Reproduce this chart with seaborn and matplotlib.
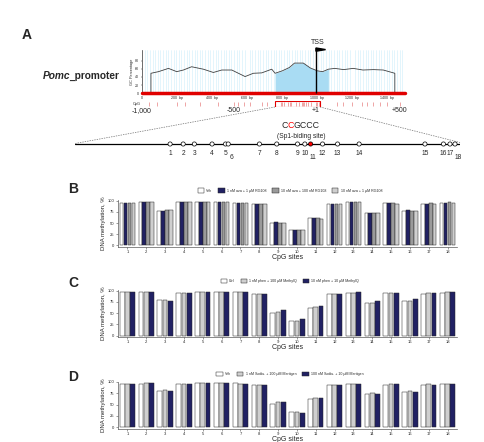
import numpy as np
import pandas as pd
import matplotlib
matplotlib.use("Agg")
import matplotlib.pyplot as plt
from matplotlib.patches import Rectangle
import seaborn as sns

sns.set_theme(style="ticks")
plt.rcParams['font.family'] = ['Liberation Sans', 'DejaVu Sans']

### panel A data: GC profile of the promoter (bp along the 1.5 kb window)

gc_bp = [51, 51, 94, 151, 198, 236, 283, 350, 407, 455, 512, 588, 635, 683, 740, 759,
         800, 840, 870, 920, 960, 1000, 1030, 1063, 1100, 1150, 1205, 1260, 1320, 1376, 1442, 1442]
gc_pct = [0, 49, 53, 61, 53, 57, 65, 59, 51, 57, 57, 41, 49, 50, 59, 49,
          55, 63, 74, 74, 62, 55, 53, 59, 61, 58, 61, 57, 58, 57, 49, 0]
island = (759, 1063)
tss_bp = 992
gc_ticks = [0, 200, 400, 600, 800, 1000, 1200, 1400]
gc_ticklabels = ['0', '200  bp', '400  bp', '600  bp', '800  bp', '1000  bp', '1200  bp', '1400  bp']
cpg_bp = [38, 85, 199, 247, 332, 436, 522, 545, 579, 617, 683, 712,
          790, 800, 812, 830, 845, 852, 880, 893, 910, 920, 926, 935, 948, 965, 990, 1000, 1008,
          1110, 1148, 1195, 1252, 1281, 1319, 1357, 1395, 1471]
zoom_box = (761, 1015)
pos_labels = ['-1,000', '-500', '+1', '+500']
pos_bp = [0, 522, 992, 1470]

# CpG sites in the zoomed diagram (relative position along the line, 0-100)
site_pos = [24.7, 28.1, 31.0, 35.6, 39.1, 39.8, 47.9, 52.4, 57.8, 59.7, 61.2, 64.3,
            68.2, 73.8, 90.9, 95.7, 97.4, 98.7]
sp1_site = 11

### panels B-D data: DNA methylation (%) per CpG site

sites = [str(i) for i in range(1, 19)]

b_groups = ['Veh', '1 nM aza + 1 μM RG108', '10 nM aza + 100 nM RG108', '10 nM aza + 1 μM RG108']
b_veh  = [96, 97, 78, 97, 97, 97, 96, 93, 50, 34, 62, 93, 97, 72, 94, 77, 92, 96]
b_low  = [94, 97, 77, 97, 97, 97, 96, 92, 53, 35, 62, 93, 97, 72, 94, 79, 93, 96]
b_mid  = [96, 97, 80, 97, 97, 97, 96, 93, 50, 34, 62, 93, 97, 73, 96, 77, 95, 97]
b_high = [96, 97, 80, 97, 97, 97, 96, 92, 50, 34, 59, 93, 97, 73, 92, 76, 93, 96]

c_groups = ['Ctrl', '1 nM phen + 100 μM MethylQ', '10 nM phen + 10 μM MethylQ']
c_ctrl = [97, 97, 79, 95, 98, 98, 98, 93, 51, 33, 62, 93, 95, 73, 95, 78, 92, 95]
c_low  = [97, 98, 80, 95, 98, 98, 98, 93, 53, 32, 63, 93, 95, 73, 95, 78, 94, 97]
c_high = [97, 97, 77, 95, 97, 97, 97, 93, 56, 37, 66, 93, 97, 76, 95, 81, 94, 97]

d_groups = ['Veh', '1 nM Sodiu. + 100 μM Mertigen', '100 nM Sodiu. + 10 μM Mertigen']
d_veh  = [96, 96, 79, 96, 98, 98, 98, 94, 52, 33, 63, 94, 96, 73, 94, 78, 93, 96]
d_low  = [96, 98, 82, 96, 98, 98, 96, 94, 56, 33, 65, 94, 96, 76, 96, 80, 96, 96]
d_high = [96, 98, 80, 96, 98, 97, 96, 94, 56, 32, 65, 93, 95, 73, 96, 78, 94, 96]

white, navy, dgray, lgray = 'white', '#16166e', '#9a9a9a', '#cfcfcf'

W, H = 484, 442
fig = plt.figure(figsize=(W / 100, H / 100), dpi=100)


def px_axes(l, t, r, b):
    return fig.add_axes([l / W, 1 - b / H, (r - l) / W, (b - t) / H])


## overlay in pixel coordinates for the connecting lines and the sequence text
ov = px_axes(0, 0, W, H)
ov.set_xlim(0, W)
ov.set_ylim(H, 0)
ov.axis('off')
ov.plot([275, 75], [107, 143.5], ls=(0, (2, 1.5)), color='0.45', lw=0.5)
ov.plot([320, 460], [107, 142.5], ls=(0, (2, 1.5)), color='0.45', lw=0.5)

t1 = ov.text(281, 129.5, 'C', fontsize=6.3, va='bottom', ha='left')
t2 = ov.annotate('C', xy=(1, 0), xycoords=t1, fontsize=6.3, va='bottom', ha='left', color='red')
ov.annotate('GCCC', xy=(1, 0), xycoords=t2, fontsize=6.3, va='bottom', ha='left')
ov.text(301, 136.5, '(Sp1-biding site)', fontsize=4.8, ha='center', va='center')

p1 = ov.text(43, 79, 'Pomc', fontsize=7.3, fontweight='bold', fontstyle='italic',
             ha='left', va='baseline')
ov.annotate('_promoter', xy=(0.96, 0), xycoords=p1, fontsize=7.3, fontweight='bold',
            ha='left', va='bottom')

for letter, x, y in [('A', 27, 35), ('B', 73, 189), ('C', 73, 283), ('D', 73, 377)]:
    ov.text(x, y, letter, fontsize=10, fontweight='bold', ha='center', va='center')

## GC content plot
ax = px_axes(142, 50, 405, 93.3)
ax.set_xlim(0, 1500)
ax.set_ylim(0, 106)
ax.set_xticks(np.arange(0, 1500, 15), minor=True)
ax.grid(True, which='minor', axis='x', color='#cdeefa', lw=0.4)
ax.grid(False, which='major')
ax.fill_between(gc_bp, gc_pct, where=[island[0] <= x <= island[1] for x in gc_bp],
                color='#a9dcf3', lw=0, zorder=2)
ax.plot(gc_bp, gc_pct, color='0.25', lw=0.6, zorder=3)
ax.axhline(0, color='#e00000', lw=2.5, clip_on=False, zorder=4)
ax.vlines(tss_bp, 0, 111, color='black', lw=1, clip_on=False, zorder=5)
ax.fill([tss_bp, tss_bp + 55, tss_bp], [111, 107, 103], color='black', clip_on=False, zorder=5)
ax.text(tss_bp + 10, 115, 'TSS', fontsize=5, ha='center', va='bottom')
ax.set_xticks(gc_ticks)
ax.set_xticklabels(gc_ticklabels)
ax.set_yticks([0, 20, 40, 60, 80])
ax.tick_params(axis='both', which='both', labelsize=2.6, length=1, width=0.3, pad=1)
ax.tick_params(axis='x', which='minor', length=0)
ax.set_ylabel('GC Percentage', fontsize=2.8, labelpad=1)
for s in ['top', 'right', 'bottom']:
    ax.spines[s].set_visible(False)
ax.spines['left'].set_linewidth(0.5)
ax.spines['left'].set_color('0.2')

## CpG track below the GC plot
cp = px_axes(142, 100.5, 405, 107)
cp.set_xlim(0, 1500)
cp.set_ylim(0, 1)
cp.axis('off')
cp.vlines(cpg_bp, 0.2, 0.8, color='#e88080', lw=0.5)
cp.add_patch(Rectangle((zoom_box[0], 0.02), zoom_box[1] - zoom_box[0], 0.96,
                       fill=False, edgecolor='#e00000', lw=0.8))
cp.text(-8, 0.5, 'CpG', fontsize=2.8, ha='right', va='center')
for lab, x in zip(pos_labels, pos_bp):
    cp.text(x, -0.55, lab, fontsize=5, ha='center', va='center',
            transform=cp.get_xaxis_transform())

## CpG site diagram
dg = px_axes(75, 139, 460, 149)
dg.set_xlim(0, 100)
dg.set_ylim(-1, 1)
dg.axis('off')
dg.axhline(0, color='black', lw=0.9, zorder=1)
face = ['red' if i + 1 == sp1_site else 'white' for i in range(len(site_pos))]
dg.scatter(site_pos, np.zeros(len(site_pos)), s=9, facecolors=face, edgecolors='black',
           linewidths=0.5, zorder=3, clip_on=False)
shifted = {6: (2.5, -9.5), 11: (1.5, -9.5), 18: (2.5, -9.5)}
for i, x in enumerate(site_pos):
    n = i + 1
    dx, dy = shifted.get(n, (0, -7))
    dg.annotate(str(n), (x, 0), xytext=(dx, dy), textcoords='offset points',
                ha='center', va='center', fontsize=4.8)


## methylation bar panels
def bar_panel(box, groups, values, colors, legend_y):
    ax = px_axes(*box)
    df = pd.DataFrame({'site': np.tile(sites, len(groups)),
                       'group': np.repeat(groups, len(sites)),
                       'value': np.concatenate(values)})
    sns.barplot(data=df, x='site', y='value', hue='group', order=sites, hue_order=groups,
                palette=dict(zip(groups, colors)), edgecolor='0.15', linewidth=0.35,
                width=0.84, gap=0.1, ax=ax)
    ax.set_ylim(-3, 101)
    ax.set_yticks([0, 25, 50, 75, 100])
    ax.tick_params(axis='both', labelsize=3, length=1.5, width=0.4, pad=1, color='0.3')
    ax.set_ylabel('DNA methylation, %', fontsize=4.3, labelpad=1.5)
    ax.set_xlabel('CpG sites', fontsize=5, labelpad=0)
    sns.despine(ax=ax)
    for s in ['left', 'bottom']:
        ax.spines[s].set_linewidth(0.5)
        ax.spines[s].set_color('0.35')
    sns.move_legend(ax, 'center', bbox_to_anchor=(0.507, legend_y), ncol=len(groups),
                    frameon=False, title=None, fontsize=2.6, handlelength=1.8,
                    handleheight=1.5, columnspacing=1.6, handletextpad=0.6)
    return ax


bar_panel((118, 200.3, 457, 246.8), b_groups, [b_veh, b_low, b_mid, b_high],
          [white, navy, dgray, lgray], 1.21)
bar_panel((118, 290.2, 457, 337), c_groups, [c_ctrl, c_low, c_high],
          [white, lgray, navy], 1.20)
bar_panel((118, 381.5, 457, 428.6), d_groups, [d_veh, d_low, d_high],
          [white, lgray, navy], 1.16)

fig.savefig('out.png', dpi=100)
